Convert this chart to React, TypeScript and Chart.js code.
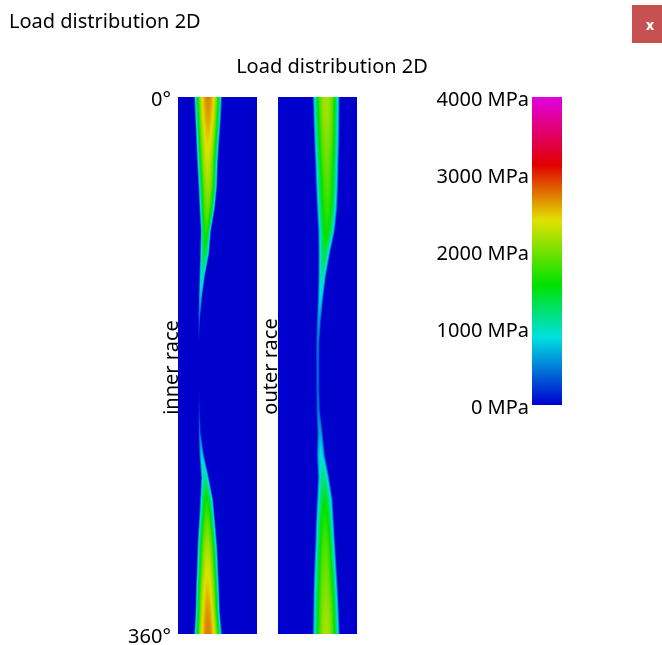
import React, { useEffect, useRef } from 'react';
import { Chart, registerables } from 'chart.js';

Chart.register(...registerables);

const FONT = "'Noto Sans', 'Open Sans', sans-serif";

// Angle along the raceway (deg), top = 0°, bottom = 360°
const ANGLES = [0, 15, 30, 45, 60, 75, 90, 105, 120, 135, 150, 165, 180, 195, 210, 225, 240, 255, 270, 285, 300, 315, 330, 345, 360];

// Inner race: peak contact stress (MPa) and contact band edges (% of raceway width)
const INNER_PEAK = [2720, 2600, 2450, 2300, 2150, 1950, 1700, 1400, 1050, 750, 350, 0, 0, 0, 150, 450, 800, 1150, 1600, 1900, 2150, 2350, 2500, 2650, 2750];
const INNER_LEFT = [20.3, 21.5, 22.8, 24.1, 25.7, 27.0, 28.7, 27.8, 27.0, 26.2, 25.7, 25.3, 25.3, 25.3, 25.7, 26.2, 27.0, 29.1, 27.8, 26.2, 24.4, 23.7, 22.4, 21.9, 20.3];
const INNER_RIGHT = [55.7, 54.4, 52.3, 50.6, 49.7, 46.8, 41.8, 39.6, 34.2, 30.4, 27.8, 27.2, 27.2, 27.2, 28.1, 28.7, 32.9, 39.2, 44.7, 47.2, 49.7, 51.0, 52.3, 53.2, 55.7];

// Outer race
const OUTER_PEAK = [2200, 2150, 2050, 1950, 1850, 1750, 1600, 1350, 1100, 850, 600, 450, 400, 400, 450, 650, 900, 1200, 1500, 1700, 1850, 1950, 2050, 2150, 2200];
const OUTER_LEFT = [43.9, 44.7, 45.6, 46.8, 47.7, 49.0, 50.6, 51.0, 51.0, 50.3, 49.0, 48.1, 48.1, 48.1, 48.5, 49.7, 49.0, 50.3, 49.0, 47.7, 46.8, 45.6, 44.7, 44.3, 43.9];
const OUTER_RIGHT = [78.1, 77.8, 77.6, 76.8, 76.3, 75.1, 72.0, 66.0, 60.8, 57.3, 54.4, 52.5, 52.5, 52.5, 53.2, 56.6, 59.5, 64.9, 69.2, 70.9, 72.5, 74.3, 75.9, 77.2, 78.1];

// Tick labels
const DEG_TICKS = [0, 360];
const BAR_TICKS = [0, 1000, 2000, 3000, 4000];

// Colour map (MPa -> rgb)
const CMAP_VALUES = [0, 880, 1560, 2400, 3120, 4000];
const CMAP_COLORS = [
  [0, 0, 205],
  [0, 225, 225],
  [0, 225, 0],
  [225, 225, 0],
  [225, 0, 0],
  [225, 0, 225],
];

// Layout in x-scale units (1 unit = 1% of raceway width)
const STRIP_WIDTH = 100;
const INNER_X0 = 0;
const OUTER_X0 = 126.6;
const BAR_X0 = 448;
const BAR_X1 = 486;
const X_MAX = 486;
const BAR_MIN = -2974;
const BAR_MAX = 4000;
const LABEL_SHIFT = 3;
const PROFILE_EXP = 0.7;

function colorFor(v: number): number[] {
  const vv = Math.max(CMAP_VALUES[0], Math.min(CMAP_VALUES[CMAP_VALUES.length - 1], v));
  for (let k = 0; k < CMAP_VALUES.length - 1; k++) {
    if (vv <= CMAP_VALUES[k + 1]) {
      const t = (vv - CMAP_VALUES[k]) / (CMAP_VALUES[k + 1] - CMAP_VALUES[k]);
      const a = CMAP_COLORS[k], b = CMAP_COLORS[k + 1];
      return [a[0] + (b[0] - a[0]) * t, a[1] + (b[1] - a[1]) * t, a[2] + (b[2] - a[2]) * t];
    }
  }
  return CMAP_COLORS[CMAP_COLORS.length - 1];
}

function lerpAt(arr: number[], ang: number): number {
  if (ang <= ANGLES[0]) return arr[0];
  for (let k = 0; k < ANGLES.length - 1; k++) {
    if (ang <= ANGLES[k + 1]) {
      const t = (ang - ANGLES[k]) / (ANGLES[k + 1] - ANGLES[k]);
      return arr[k] + (arr[k + 1] - arr[k]) * t;
    }
  }
  return arr[arr.length - 1];
}

function drawStrip(chart: any, x0: number, peak: number[], left: number[], right: number[]) {
  const { ctx } = chart;
  const x = chart.scales.x, y = chart.scales.y;
  const px0 = Math.round(x.getPixelForValue(x0));
  const px1 = Math.round(x.getPixelForValue(x0 + STRIP_WIDTH));
  const py0 = Math.round(y.getPixelForValue(ANGLES[0]));
  const py1 = Math.round(y.getPixelForValue(ANGLES[ANGLES.length - 1]));
  const w = px1 - px0, h = py1 - py0;
  const off = document.createElement('canvas');
  off.width = w; off.height = h;
  const octx = off.getContext('2d')!;
  const img = octx.createImageData(w, h);
  const SS = 4;
  for (let j = 0; j < h; j++) {
    const ang = y.getValueForPixel(py0 + j + 0.5);
    const p = lerpAt(peak, ang), l = lerpAt(left, ang), r = lerpAt(right, ang);
    const c = (l + r) / 2, a = Math.max((r - l) / 2, 0.01);
    for (let i = 0; i < w; i++) {
      let sum = 0;
      for (let s = 0; s < SS; s++) {
        const u = x.getValueForPixel(px0 + i + (s + 0.5) / SS) - x0;
        const d = (u - c) / a;
        if (Math.abs(d) < 1) sum += p * Math.pow(1 - d * d, PROFILE_EXP);
      }
      const col = colorFor(sum / SS);
      const k = (j * w + i) * 4;
      img.data[k] = col[0]; img.data[k + 1] = col[1]; img.data[k + 2] = col[2]; img.data[k + 3] = 255;
    }
  }
  octx.putImageData(img, 0, 0);
  ctx.drawImage(off, px0, py0);
}

function drawBar(chart: any) {
  const { ctx } = chart;
  const x = chart.scales.x, yb = chart.scales.yBar;
  const bx0 = Math.round(x.getPixelForValue(BAR_X0));
  const bx1 = Math.round(x.getPixelForValue(BAR_X1));
  const by0 = Math.round(yb.getPixelForValue(BAR_MAX));
  const by1 = Math.round(yb.getPixelForValue(BAR_TICKS[0]));
  for (let py = by0; py < by1; py++) {
    const v = yb.getValueForPixel(py + 0.5);
    const c = colorFor(v);
    ctx.fillStyle = `rgb(${Math.round(c[0])},${Math.round(c[1])},${Math.round(c[2])})`;
    ctx.fillRect(bx0, py, bx1 - bx0, 1);
  }
  ctx.save();
  ctx.font = `20px ${FONT}`;
  ctx.fillStyle = '#000';
  ctx.textAlign = 'right';
  ctx.textBaseline = 'middle';
  for (const v of BAR_TICKS) {
    ctx.fillText(`${v} MPa`, bx0 - 3, yb.getPixelForValue(v) + LABEL_SHIFT);
  }
  ctx.restore();
}

function drawVertical(ctx: CanvasRenderingContext2D, text: string, px: number, py: number) {
  ctx.save();
  ctx.translate(px, py);
  ctx.rotate(-Math.PI / 2);
  ctx.font = `20px ${FONT}`;
  ctx.fillStyle = '#000';
  ctx.textAlign = 'center';
  ctx.textBaseline = 'alphabetic';
  ctx.fillText(text, 0, 0);
  ctx.restore();
}

const heatPlugin = {
  id: 'loadHeat',
  beforeDatasetsDraw(chart: any) {
    drawStrip(chart, INNER_X0, INNER_PEAK, INNER_LEFT, INNER_RIGHT);
    drawStrip(chart, OUTER_X0, OUTER_PEAK, OUTER_LEFT, OUTER_RIGHT);
    drawBar(chart);
    const x = chart.scales.x, y = chart.scales.y;
    const mid = y.getPixelForValue(180);
    drawVertical(chart.ctx, 'inner race', x.getPixelForValue(INNER_X0) - 0.5, mid + 2);
    drawVertical(chart.ctx, 'outer race', x.getPixelForValue(OUTER_X0) - 1, mid + 1);
  },
};

export default function App() {
  const ref = useRef<HTMLCanvasElement>(null);
  useEffect(() => {
    if (!ref.current) return;
    Chart.defaults.font.family = FONT;
    const chart = new Chart(ref.current, {
      type: 'scatter',
      data: { datasets: [] },
      options: {
        animation: false,
        responsive: false,
        devicePixelRatio: 1,
        layout: { padding: { left: 102, right: 100, top: 0, bottom: 11 } },
        plugins: {
          legend: { display: false },
          tooltip: { enabled: false },
          title: {
            display: true,
            text: 'Load distribution 2D',
            color: '#000',
            font: { family: FONT, size: 20, weight: 'normal', lineHeight: 1.2 },
            padding: { top: 55, bottom: 18 },
          },
        },
        scales: {
          x: { type: 'linear', min: 0, max: X_MAX, display: false },
          y: {
            type: 'linear',
            position: 'left',
            reverse: true,
            min: DEG_TICKS[0],
            max: DEG_TICKS[DEG_TICKS.length - 1],
            grid: { display: false, drawTicks: false },
            border: { display: false },
            ticks: {
              padding: 7,
              labelOffset: LABEL_SHIFT,
              color: '#000',
              font: { family: FONT, size: 20 },
              callback: (v: any) => `${v}°`,
            },
            afterBuildTicks: (s: any) => { s.ticks = DEG_TICKS.map((v) => ({ value: v })); },
            afterFit: (s: any) => { s.width = 76; s.paddingTop = 0; s.paddingBottom = 0; },
          },
          yBar: {
            type: 'linear',
            position: 'right',
            min: BAR_MIN,
            max: BAR_MAX,
            display: false,
          },
        },
      } as any,
      plugins: [heatPlugin],
    });
    return () => chart.destroy();
  }, []);

  return (
    <div style={{ position: 'fixed', left: 0, top: 0, width: 662, height: 645, background: '#fff', overflow: 'hidden' }}>
      <canvas ref={ref} width={662} height={645} style={{ position: 'absolute', left: 0, top: 0, width: 662, height: 645 }} />
      <div style={{ position: 'absolute', left: 9, top: 9, font: `20px ${FONT}`, lineHeight: '24px', color: '#000', whiteSpace: 'nowrap' }}>
        Load distribution 2D
      </div>
      <div style={{ position: 'absolute', left: 632, top: 5, width: 36, height: 38, background: '#c75050', color: '#fff', font: `bold 14px ${FONT}`, display: 'flex', alignItems: 'center', justifyContent: 'center' }}>
        x
      </div>
    </div>
  );
}
